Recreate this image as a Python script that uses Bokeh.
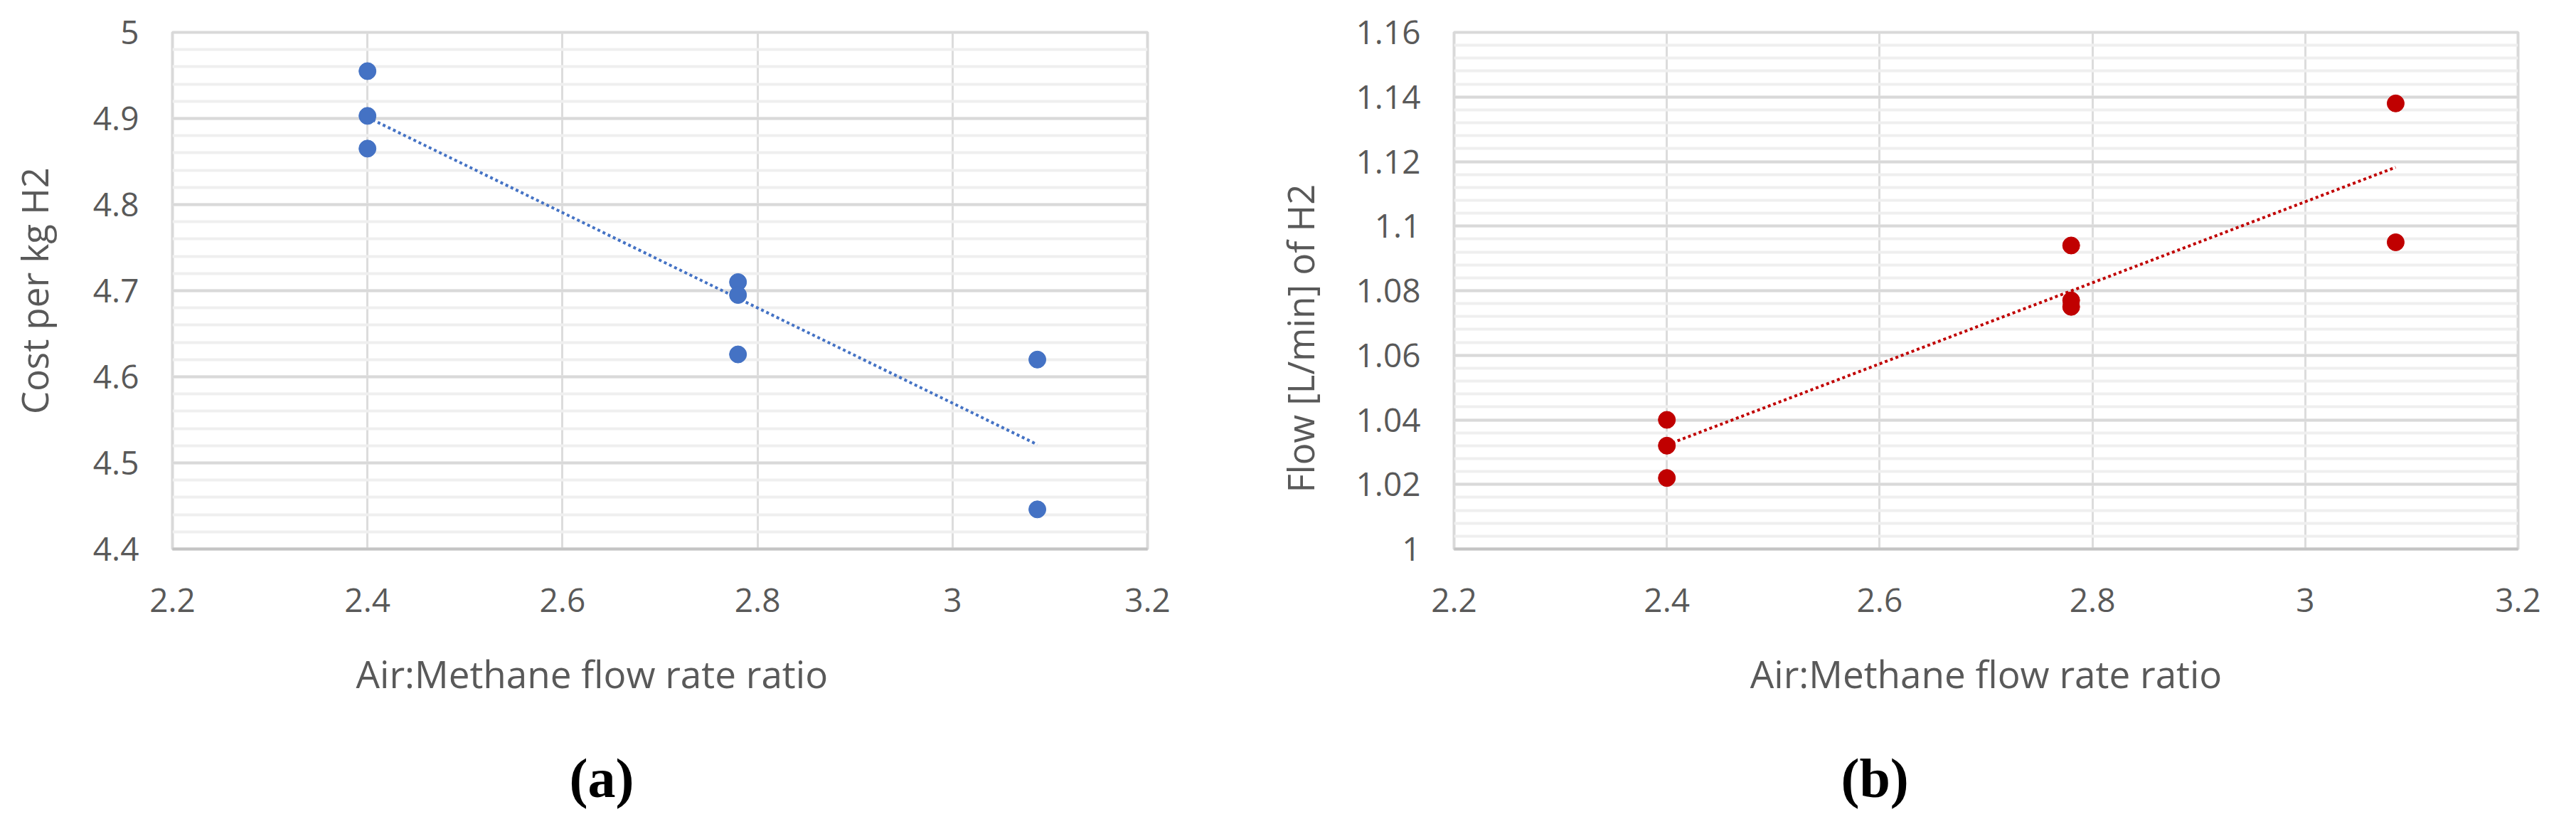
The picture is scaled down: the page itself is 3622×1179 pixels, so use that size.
import numpy as np
from bokeh.plotting import figure
from bokeh.layouts import row
from bokeh.models import Title, Range1d, FixedTicker, NumeralTickFormatter
from bokeh.embed import file_html
from bokeh.resources import INLINE

# panel (a): production cost
cost_ratio = [2.4, 2.4, 2.4, 2.78, 2.78, 2.78, 3.087, 3.087]
cost_value = [4.955, 4.903, 4.865, 4.710, 4.695, 4.626, 4.620, 4.446]

# panel (b): hydrogen flow
flow_ratio = [2.4, 2.4, 2.4, 2.78, 2.78, 2.78, 3.085, 3.085]
flow_value = [1.040, 1.032, 1.022, 1.094, 1.077, 1.075, 1.138, 1.095]

x_ticks = [2.2, 2.4, 2.6, 2.8, 3.0, 3.2]
cost_ticks = [4.4, 4.5, 4.6, 4.7, 4.8, 4.9, 5.0]
flow_ticks = [1.0, 1.02, 1.04, 1.06, 1.08, 1.1, 1.12, 1.14, 1.16]

x_title = "Air:Methane flow rate ratio"
cost_title = "Cost per kg H2"
flow_title = "Flow  [L/min] of H2"

FONT = "Open Sans"
GREY = "#595959"


def side_title(text, align, offset, standoff, font=FONT, size="51px", style="normal", color=GREY):
    return Title(text=text, align=align, offset=offset, standoff=standoff,
                 text_font=font, text_font_size=size, text_font_style=style, text_color=color)


def panel(xs, ys, color, yticks, ystep, caption, width, bl, br, frame_h,
          xtitle_pos, cap_pos):
    height = 1160
    p = figure(width=width, height=height, output_backend="svg", toolbar_location=None,
               x_range=Range1d(x_ticks[0], x_ticks[-1]),
               y_range=Range1d(yticks[0], yticks[-1]),
               min_border_left=bl, min_border_right=br, min_border_top=45,
               min_border_bottom=height - 45 - frame_h)
    minor = [round(yticks[0] + i * ystep / 5, 4) for i in range((len(yticks) - 1) * 5 + 1)]
    p.xaxis.ticker = FixedTicker(ticks=x_ticks)
    p.yaxis.ticker = FixedTicker(ticks=yticks, minor_ticks=minor)
    for ax in (p.xaxis, p.yaxis):
        ax.formatter = NumeralTickFormatter(format="0.[00]")
        ax.major_tick_out = 0
        ax.major_tick_in = 0
        ax.minor_tick_out = 0
        ax.minor_tick_in = 0
        ax.major_label_text_font = FONT
        ax.major_label_text_font_size = "46px"
        ax.major_label_text_color = GREY
    p.yaxis.major_label_standoff = 47
    p.xaxis.major_label_standoff = 55
    p.yaxis.axis_line_color = None
    p.xaxis.axis_line_color = "#c4c4c4"
    p.xaxis.axis_line_width = 4
    p.outline_line_color = "#d9d9d9"
    p.outline_line_width = 4
    p.xgrid.grid_line_color = "#dcdcdc"
    p.xgrid.grid_line_width = 3
    p.ygrid.grid_line_color = "#d9d9d9"
    p.ygrid.grid_line_width = 4
    p.ygrid.minor_grid_line_color = "#efefef"
    p.ygrid.minor_grid_line_width = 4

    # linear trend line over the data span
    k, b = np.polyfit(xs, ys, 1)
    tx = [min(xs), max(xs)]
    p.line(tx, [k * t + b for t in tx], line_color=color, line_width=4, line_dash="4 4")
    p.scatter(xs, ys, size=24, fill_color=color, line_color=color)

    p.add_layout(side_title(x_title, *xtitle_pos, size="53px"), "below")
    p.add_layout(side_title(caption, *cap_pos, font="Liberation Serif", size="78px",
                            style="bold", color="black"), "below")
    return p


p1 = panel(cost_ratio, cost_value, "#4472c4", cost_ticks, 0.1, "(a)",
           1702, 242, 89, 726, ("left", 258, 90), ("left", 558, 40))
p1.yaxis.axis_label = cost_title
p1.yaxis.axis_label_standoff = 45
p1.yaxis.axis_label_text_font = FONT
p1.yaxis.axis_label_text_font_size = "51px"
p1.yaxis.axis_label_text_font_style = "normal"
p1.yaxis.axis_label_text_color = GREY

p2 = panel(flow_ratio, flow_value, "#c00000", flow_ticks, 0.02, "(b)",
           1904, 342, 66, 728, ("center", 0, 90), ("left", 544, 40))
p2.add_layout(side_title(flow_title, "left", 79, 82), "left")

layout = row(p1, p2)
open("out.html", "w").write(file_html(layout, INLINE))
